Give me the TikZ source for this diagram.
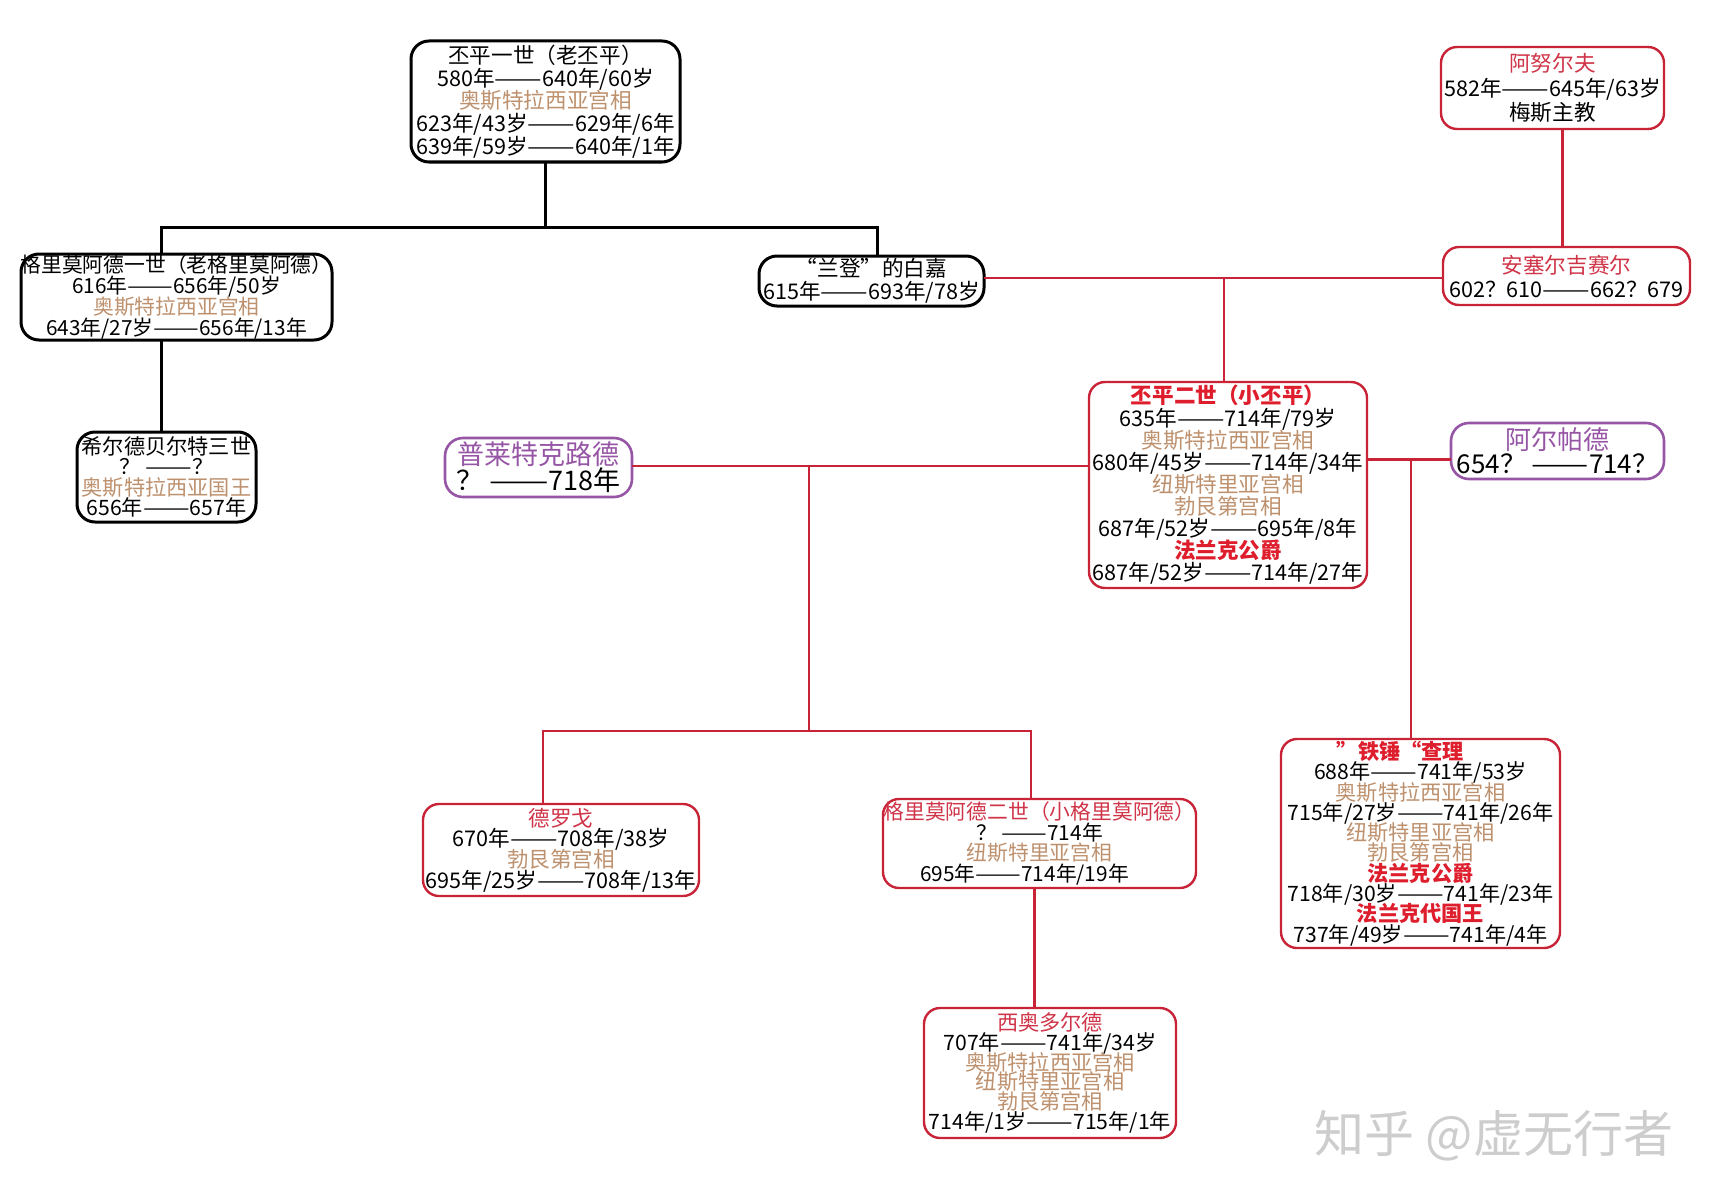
\documentclass[tikz,border=0pt]{standalone}
\usepackage{fontspec}
\setmainfont{Noto Sans CJK SC}
\definecolor{boxred}{RGB}{200,35,55}
\definecolor{titred}{RGB}{208,52,72}
\definecolor{boldred}{RGB}{222,30,45}
\definecolor{tanc}{RGB}{190,145,110}
\definecolor{purp}{RGB}{150,85,165}
\definecolor{wmc}{RGB}{205,205,205}
\newcommand\fz[2]{\fontsize{#1}{#2}\selectfont\lineskiplimit=-100pt\lineskip=0pt}
\newcommand\tanx[1]{\textcolor{tanc}{#1}}
\newcommand\redt[1]{\textcolor{titred}{#1}}
\newcommand\redb[1]{\textcolor{boldred}{\bfseries #1}}
\newcommand\purx[1]{\textcolor{purp}{#1}}
\newcommand\dd{\resizebox{2.2em}{\height}{——}}
\begin{document}
\begin{tikzpicture}[x=0.5pt,y=-0.5pt,
  boxbase/.style={rounded corners=8pt, inner sep=0pt, outer sep=0pt, fill=white},
  bbox/.style={boxbase, draw=black, line width=1.5pt, rounded corners=9pt},
  rbox/.style={boxbase, draw=boxred, line width=1.2pt},
  pbox/.style={boxbase, draw=purp, line width=1.3pt, rounded corners=9pt},
  txt/.style={align=center, inner sep=0pt},
  bline/.style={draw=black, line width=1.5pt},
  rline/.style={draw=boxred, line width=1.2pt}]
\useasboundingbox (0,0) rectangle (1724,1204);
\fill[white] (0,0) rectangle (1724,1204);

% boxes
\node[bbox, minimum width=134.5pt, minimum height=60.5pt] (p1) at (545.5,101.5) {};
\node[txt, font=\fz{10.8}{11.3}] (p1t) at (p1.center) {丕平一世（老丕平）\\580年\dd640年/60岁\\\tanx{奥斯特拉西亚宫相}\\623年/43岁\dd629年/6年\\639年/59岁\dd640年/1年};

\node[rbox, minimum width=111.5pt, minimum height=41pt] (arn) at (1552.5,88) {};
\node[txt, font=\fz{10.8}{12.4}] (arnt) at (arn.center) {\redt{阿努尔夫}\\582年\dd645年/63岁\\梅斯主教};

\node[bbox, minimum width=155.5pt, minimum height=43pt] (g1) at (176.5,297) {};
\node[txt, font=\fz{10.4}{10.4}] (g1t) at (g1.center) {格里莫阿德一世（老格里莫阿德）\\616年\dd656年/50岁\\\tanx{奥斯特拉西亚宫相}\\643年/27岁\dd656年/13年};

\node[bbox, minimum width=112.5pt, minimum height=25pt] (bg) at (871.5,281) {};
\node[txt, font=\fz{10.8}{11.5}] (bgt) at (bg.center) {“兰登”的白嘉\\615年\dd693年/78岁};

\node[rbox, minimum width=123.5pt, minimum height=29pt] (an) at (1566.5,276) {};
\node[txt, font=\fz{10.8}{12}] (ant) at (an.center) {\redt{安塞尔吉赛尔}\\602？610\dd662？679};

\node[bbox, minimum width=89.5pt, minimum height=45pt] (h3) at (166.5,477) {};
\node[txt, font=\fz{10.6}{10.3}] (h3t) at (h3.center) {希尔德贝尔特三世\\？ \dd？\\\tanx{奥斯特拉西亚国王}\\656年\dd657年};

\node[pbox, minimum width=93.5pt, minimum height=29.5pt] (pl) at (538.5,467.5) {};
\node[txt, font=\fz{13.5}{13}] (plt) at (pl.center) {\purx{普莱特克路德}\\？ \dd718年};

\node[rbox, minimum width=139pt, minimum height=103pt] (p2) at (1228,485) {};
\node[txt, font=\fz{10.8}{11.05}] (p2t) at (p2.center) {\redb{丕平二世（小丕平）}\\635年\dd714年/79岁\\\tanx{奥斯特拉西亚宫相}\\680年/45岁\dd714年/34年\\\tanx{纽斯特里亚宫相}\\\tanx{勃艮第宫相}\\687年/52岁\dd695年/8年\\\redb{法兰克公爵}\\687年/52岁\dd714年/27年};

\node[pbox, minimum width=106.5pt, minimum height=28pt] (al) at (1557.5,451) {};
\node[txt, font=\fz{13}{12}] (alt) at (al.center) {\purx{阿尔帕德}\\654？ \dd714？};

\node[rbox, minimum width=138pt, minimum height=46pt] (dr) at (561,850) {};
\node[txt, font=\fz{10.8}{10.3}] (drt) at (dr.center) {\redt{德罗戈}\\670年\dd708年/38岁\\\tanx{勃艮第宫相}\\695年/25岁\dd708年/13年};

\node[rbox, minimum width=156.5pt, minimum height=44.5pt] (g2) at (1039.5,843.5) {};
\node[txt, font=\fz{10.4}{10.3}] (g2t) at (g2.center) {\redt{格里莫阿德二世（小格里莫阿德）}\\？ \dd714年\hspace*{28pt}\\\tanx{纽斯特里亚宫相}\hspace*{27pt}\\695年\dd714年/19年\hspace*{15pt}};

\node[rbox, minimum width=139.5pt, minimum height=104.5pt] (ch) at (1420.5,843.5) {};
\node[txt, font=\fz{10.6}{10.15}] (cht) at (ch.center) {\redb{”铁锤“查理}\hspace*{20pt}\\688年\dd741年/53岁\hspace*{7pt}\\\tanx{奥斯特拉西亚宫相}\hspace*{7pt}\\715年/27岁\dd741年/26年\\\tanx{纽斯特里亚宫相}\hspace*{7pt}\\\tanx{勃艮第宫相}\hspace*{9pt}\\\redb{法兰克公爵}\hspace*{7pt}\\718年/30岁\dd741年/23年\\\redb{法兰克代国王}\hspace*{7pt}\\737年/49岁\dd741年/4年};

\node[rbox, minimum width=126pt, minimum height=65pt] (th) at (1050,1073) {};
\node[txt, font=\fz{10.6}{9.9}] (tht) at (th.center) {\redt{西奥多尔德}\\707年\dd741年/34岁\\\tanx{奥斯特拉西亚宫相}\\\tanx{纽斯特里亚宫相}\\\tanx{勃艮第宫相}\\714年/1岁\dd715年/1年};

% watermark
\node[font=\fz{25}{25}, text=wmc, inner sep=0pt] (wmk) at (1494,1136) {知乎 @虚无行者};

% black connectors
\coordinate (j1) at (545.5,227.6);
\coordinate (jl) at (161.6,227.6);
\coordinate (jr) at (877.4,227.6);
\draw[bline] (p1.south) -- (j1);
\draw[bline] (jl |- g1.north) -- (jl) -- (jr) -- (jr |- bg.north);
\draw[bline] (jl |- g1.south) -- (jl |- h3.north);

% red connectors
\coordinate (ja) at (1562.4,0);
\draw[rline] (ja |- arn.south) -- (ja |- an.north);
\coordinate (jb) at (1223.7,278);
\draw[rline] (bg.east |- jb) -- (an.west |- jb);
\draw[rline] (jb) -- (jb |- p2.north);
\coordinate (jc) at (809,466);
\coordinate (jd) at (809,731);
\coordinate (je) at (543,731);
\coordinate (jf) at (1031,731);
\draw[rline] (pl.east |- jc) -- (p2.west |- jc);
\draw[rline] (jc) -- (jd);
\draw[rline] (je |- dr.north) -- (je) -- (jf) -- (jf |- g2.north);
\coordinate (jg) at (1410.7,459.6);
\draw[rline] (p2.east |- jg) -- (al.west |- jg);
\draw[rline] (jg) -- (jg |- ch.north);
\coordinate (jh) at (1034.6,0);
\draw[rline] (jh |- g2.south) -- (jh |- th.north);
\end{tikzpicture}
\end{document}
